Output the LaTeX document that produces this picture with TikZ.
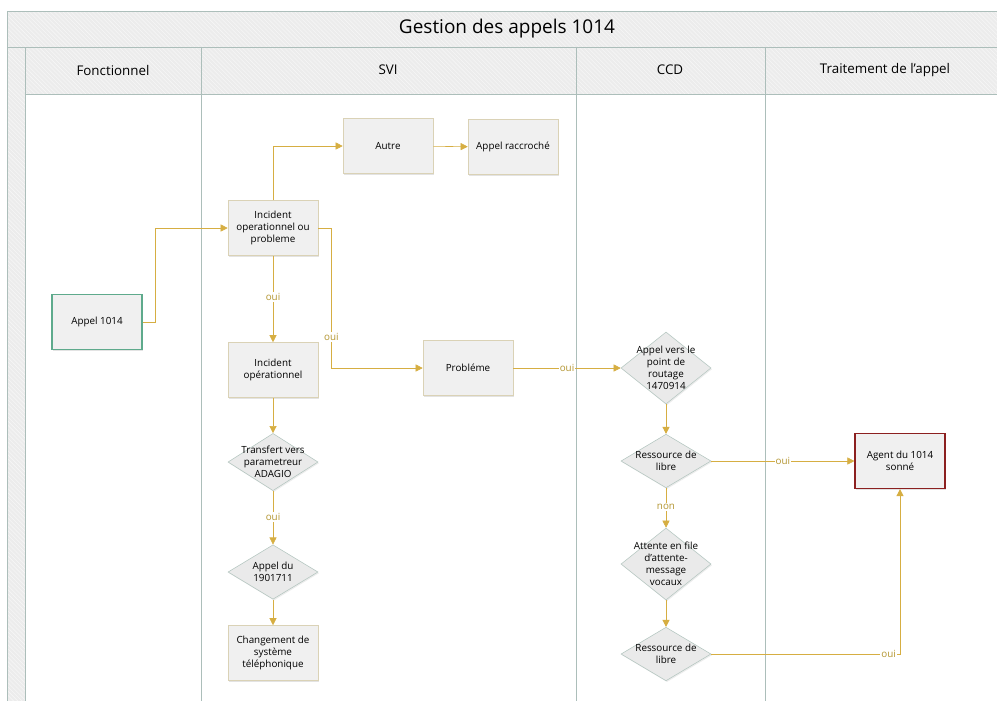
\documentclass[tikz,border=0pt]{standalone}
\usepackage{fontspec}
\setmainfont{Open Sans}
\usetikzlibrary{positioning}
\usetikzlibrary{shapes.geometric}
\usetikzlibrary{arrows.meta}
\usetikzlibrary{patterns}
\usetikzlibrary{shadows}
\usepackage{tikz}
\definecolor{gold}{RGB}{214,174,66}
\definecolor{goldtext}{RGB}{180,150,50}
\definecolor{lane}{RGB}{172,190,186}
\definecolor{headfill}{RGB}{236,236,236}
\definecolor{headline}{RGB}{246,246,246}
\definecolor{boxfill}{RGB}{240,240,240}
\definecolor{boxline}{RGB}{218,210,182}
\definecolor{decfill}{RGB}{234,234,234}
\definecolor{decline}{RGB}{180,198,192}
\definecolor{startline}{RGB}{94,170,140}
\definecolor{endline}{RGB}{140,32,32}

\begin{document}
\begin{tikzpicture}[
	x=0.025cm, y=-0.025cm,
	lanehead/.style={draw=lane, preaction={fill=headfill}, pattern=north west lines, pattern color=headline},
	box/.style={rectangle, draw=boxline, fill=boxfill, minimum width=2.25cm, minimum height=1.375cm,
		align=center, font=\fontsize{7}{8.6}\selectfont,
		drop shadow={shadow xshift=0.7pt, shadow yshift=-0.9pt, opacity=0.22}},
	dec/.style={diamond, draw=decline, fill=decfill, minimum width=2.25cm, inner sep=0pt,
		drop shadow={shadow xshift=0.7pt, shadow yshift=-0.9pt, opacity=0.15}},
	dtext/.style={align=center, font=\fontsize{7}{8.6}\selectfont},
	flow/.style={draw=gold, -{Triangle[length=5pt,width=5pt]}},
	yes/.style={fill=white, text=goldtext, inner sep=0.8pt, font=\fontsize{7}{8}\selectfont}
]

	% canvas
	\useasboundingbox (0,0) rectangle (997,700);
	\clip (0,0) rectangle (997,700);

	% title and lanes
	\def\top{11}
	\def\head{47}
	\def\body{94}
	\draw[lanehead] (7,\top) rectangle (1010,\head);
	\node[font=\fontsize{13.5}{15}\selectfont] (title) at (507,29) {Gestion des appels 1014};
	\draw[lanehead] (7,\head) rectangle (25,710);
	\foreach \xa/\xb/\name/\txt in {25/201/fonc/Fonctionnel, 201/576/svi/SVI, 576/765/ccd/CCD, 765/1010/trait/Traitement de l’appel}{
		\draw[lanehead] (\xa,\head) rectangle (\xb,\body);
		\draw[lane] (\xa,\body) -- (\xa,710);
	}
	\node[font=\fontsize{9.5}{11}\selectfont] (fonc) at (113,70) {Fonctionnel};
	\node[font=\fontsize{9.5}{11}\selectfont] (svi) at (388,70) {SVI};
	\node[font=\fontsize{9.5}{11}\selectfont] (ccd) at (670,70) {CCD};
	\node[font=\fontsize{9.5}{11}\selectfont] (trait) at (885,70) {Traitement de l’appel};

	% boxes
	\node[box, draw=startline, thick] (appel) at (97,322) {Appel 1014};
	\node[box] (incprob) at (273,228) {Incident\\operationnel ou\\probleme};
	\node[box] (autre) at (388,146) {Autre};
	\node[box] (raccroche) at (513,147) {Appel raccroché};
	\node[box] (incop) at (273,370) {Incident\\opérationnel};
	\node[box] (probleme) at (468,368) {Probléme};
	\node[box] (changement) at (273,653) {Changement de\\système\\téléphonique};
	\node[box, draw=endline, thick] (agent) at (900,461) {Agent du 1014\\sonné};

	% decisions
	\node[dec, minimum height=1.43cm, label={[dtext]center:Transfert vers\\parametreur\\ADAGIO}] (transfert) at (273,462) {};
	\node[dec, minimum height=1.36cm, label={[dtext]center:Appel du\\1901711}] (appeldu) at (273,572) {};
	\node[dec, minimum height=1.8cm, label={[dtext]center:Appel vers le\\point de\\routage\\1470914}] (routage) at (666,368) {};
	\node[dec, minimum height=1.34cm, label={[dtext]center:Ressource de\\libre}] (libreA) at (666,461) {};
	\node[dec, minimum height=1.8cm, label={[dtext]center:Attente en file\\d’attente-\\message\\vocaux}] (attente) at (666,564) {};
	\node[dec, minimum height=1.34cm, label={[dtext]center:Ressource de\\libre}] (libreB) at (666,654) {};

	% connectors
	\draw[flow] (appel.east) -- ++(13,0) |- (incprob.west);
	\draw[flow] (incprob.north) |- (autre.west);
	\draw[flow] (autre) -- (raccroche);
	\draw[flow] (incprob) -- node[yes, pos=0.48]{oui} (incop);
	\draw[flow] (incprob.east) -- ++(13,0) |- node[yes, pos=0.39]{oui} (probleme.west);
	\draw[flow] (probleme) -- node[yes]{oui} (routage);
	\draw[flow] (incop) -- (transfert);
	\draw[flow] (transfert) -- node[yes, pos=0.49]{oui} (appeldu);
	\draw[flow] (appeldu) -- (changement);
	\draw[flow] (routage) -- (libreA);
	\draw[flow] (libreA) -- node[yes]{oui} (agent);
	\draw[flow] (libreA) -- node[yes, pos=0.47]{non} (attente);
	\draw[flow] (attente) -- (libreB);
	\draw[flow] (libreB.east) -| node[yes, pos=0.47]{oui} (agent.south);

\end{tikzpicture}
\end{document}
